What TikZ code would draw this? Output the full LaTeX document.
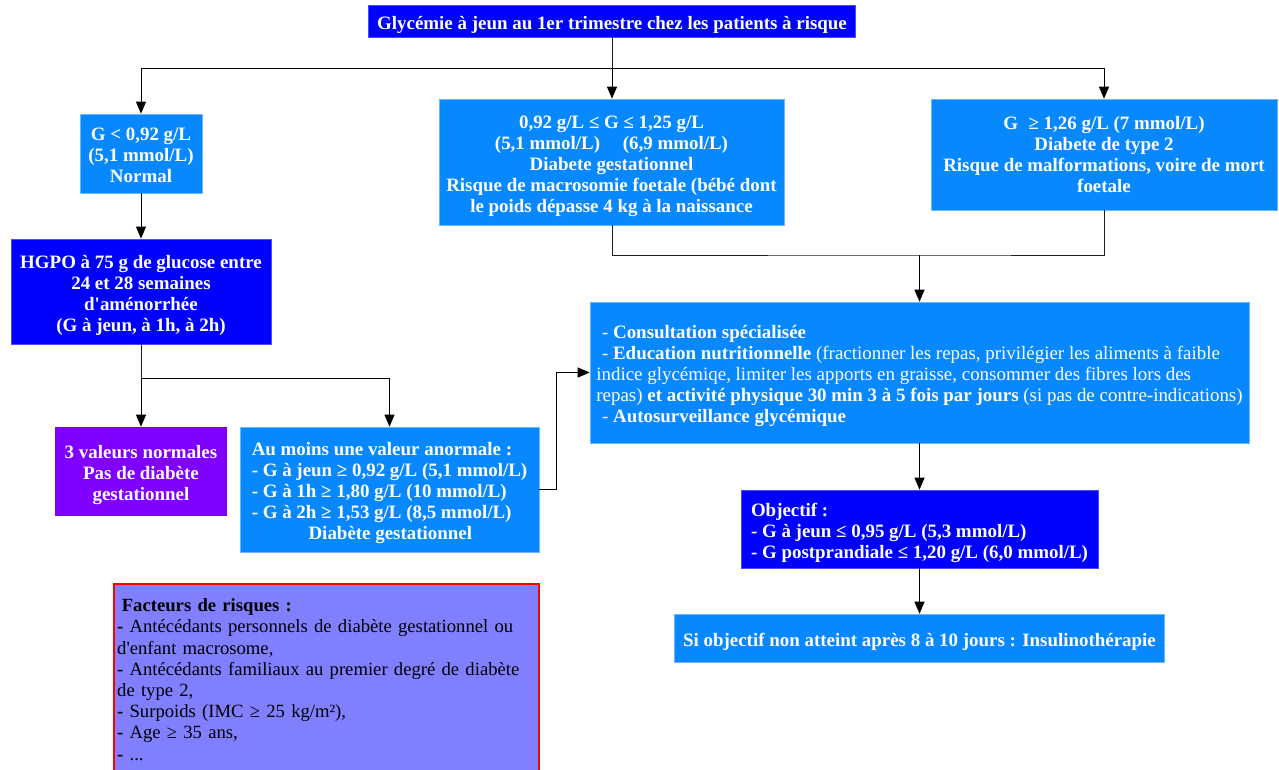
\documentclass[tikz,border=0pt]{standalone}
\usepackage{fontspec}
\setmainfont{Liberation Serif}[Ligatures=TeXOff]
\usetikzlibrary{arrows.meta}

\definecolor{bleu}{RGB}{0,0,255}
\definecolor{bleuclair}{RGB}{8,136,255}
\definecolor{mauve}{RGB}{128,0,255}
\definecolor{lavande}{RGB}{128,128,255}
\definecolor{trait}{RGB}{30,30,30}

%% reglages verticaux du texte
\newcommand{\haut}{\rule{0pt}{15.5pt}}
\newcommand{\bas}{\rule[-3.5pt]{0pt}{0pt}}

\tikzset{
	boite/.style={rectangle, inner sep=0pt, align=center, text=white, font=\fontsize{14.2}{15.75}\selectfont\bfseries},
	boitefonce/.style={boite, fill=bleu, draw=bleu!70!white, line width=0.5pt},
	boiteclaire/.style={boite, fill=bleuclair, draw=bleuclair!60!white, line width=0.5pt},
	fleche/.style={draw=black, line width=0.75pt, -{Triangle[length=9pt,width=7.5pt]}},
	lien/.style={draw=trait, line width=0.75pt},
}

\begin{document}
\begin{tikzpicture}[x=0.75pt, y=-0.75pt]
	\useasboundingbox (0,0) rectangle (1279,769);

	%% premier niveau
	\node[boitefonce, minimum width=365.25pt, minimum height=24pt] (glycemie) at (612,21) {\haut Glycémie à jeun au 1er trimestre chez les patients à risque\bas};
	\node[boiteclaire, minimum width=91.5pt, minimum height=59.25pt] (normal) at (141,153.5) {\haut G < 0,92 g/L\\(5,1 mmol/L)\\Normal\bas};
	\node[boiteclaire, minimum width=258.75pt, minimum height=94.5pt] (gestationnel) at (611.5,162) {\haut 0,92 g/L ≤ G ≤ 1,25 g/L\\(5,1 mmol/L)\hspace{1.2em}(6,9 mmol/L)\\Diabete gestationnel\\Risque de macrosomie foetale (bébé dont\\le poids dépasse 4 kg à la naissance\bas};
	\node[boiteclaire, minimum width=259.5pt, minimum height=83.25pt] (type2) at (1104,154.5) {G\hspace{0.3em} ≥ 1,26 g/L (7 mmol/L)\\Diabete de type 2\\Risque de malformations, voire de mort\\foetale};

	%% branche de gauche
	\node[boitefonce, minimum width=195pt, minimum height=78.75pt] (hgpo) at (141,291.5) {\haut HGPO à 75 g de glucose entre\\24 et 28 semaines\\d'aménorrhée\\(G à jeun, à 1h, à 2h)\bas};
	\node[boite, fill=mauve, minimum width=129pt, minimum height=66.75pt] (normales) at (141,471.5) {\haut 3 valeurs normales\\Pas de diabète\\gestationnel\bas};
	\node[boiteclaire, align=left, minimum width=224.25pt, minimum height=93.75pt] (anormale) at (389.5,489.5) {\haut Au moins une valeur anormale :\\- G à jeun ≥ 0,92 g/L (5,1 mmol/L)\\- G à 1h ≥ 1,80 g/L (10 mmol/L)\\- G à 2h ≥ 1,53 g/L (8,5 mmol/L)\\\hspace*{3em}Diabète gestationnel\bas};

	%% prise en charge
	\node[boiteclaire, align=left, font=\fontsize{14.2}{15.75}\selectfont, minimum width=494.25pt, minimum height=105.75pt] (prise) at (919.5,372.5) {\haut\hspace*{0.3em}- \textbf{Consultation spécialisée}\\\hspace*{0.3em}- \textbf{Education nutritionnelle} (fractionner les repas, privilégier les aliments à faible\\indice glycémiqe, limiter les apports en graisse, consommer des fibres lors des\\repas) \textbf{et activité physique 30 min 3 à 5 fois par jours} (si pas de contre-indications)\\\hspace*{0.3em}- \textbf{Autosurveillance glycémique}\bas};
	\node[boitefonce, align=left, minimum width=267.75pt, minimum height=58.5pt] (objectif) at (919.5,529) {\haut Objectif :\\- G à jeun ≤ 0,95 g/L (5,3 mmol/L)\\- G postprandiale ≤ 1,20 g/L (6,0 mmol/L)\bas};
	\node[boiteclaire, minimum width=367.5pt, minimum height=36pt] (insuline) at (919.5,638) {\haut Si objectif non atteint après 8 à 10 jours : Insulinothérapie\bas};

	%% encadre des facteurs de risque
	\node[rectangle, fill=lavande, draw=red, line width=1.5pt, inner sep=0pt, align=left, text width=314pt, font=\fontsize{14}{15.9}\selectfont, minimum width=318.75pt, minimum height=143.25pt] (facteurs) at (326.5,679.5) {\hspace*{0.25em}\textbf{Facteurs de risques :}\\\textbf{-} Antécédants personnels de diabète gestationnel ou\\d'enfant macrosome,\\\textbf{-} Antécédants familiaux au premier degré de diabète\\de type 2,\\\textbf{-} Surpoids (IMC ≥ 25 kg/m²),\\\textbf{-} Age ≥ 35 ans,\\\textbf{-} ...};

	%% liaisons
	\coordinate (split1) at (612,68);
	\coordinate (split2) at (141,378);
	\coordinate (merge) at (919.5,255);
	\draw[lien] (glycemie) -- (split1);
	\draw[fleche] (split1) -| (normal.north);
	\draw[fleche] (split1) -- (gestationnel.north -| split1);
	\draw[fleche] (split1) -| (type2.north);
	\draw[fleche] (normal) -- (hgpo);
	\draw[lien] (hgpo) -- (split2);
	\draw[fleche] (split2) -- (normales);
	\draw[fleche] (split2) -| (anormale.north);
	\draw[fleche] (anormale.east) -- ++(17,0) |- (prise.west);
	\draw[lien] (gestationnel.south -| split1) |- (merge) -| (type2.south);
	\draw[fleche] (merge) -- (prise.north);
	\draw[fleche] (prise) -- (objectif);
	\draw[fleche] (objectif) -- (insuline);
\end{tikzpicture}
\end{document}
